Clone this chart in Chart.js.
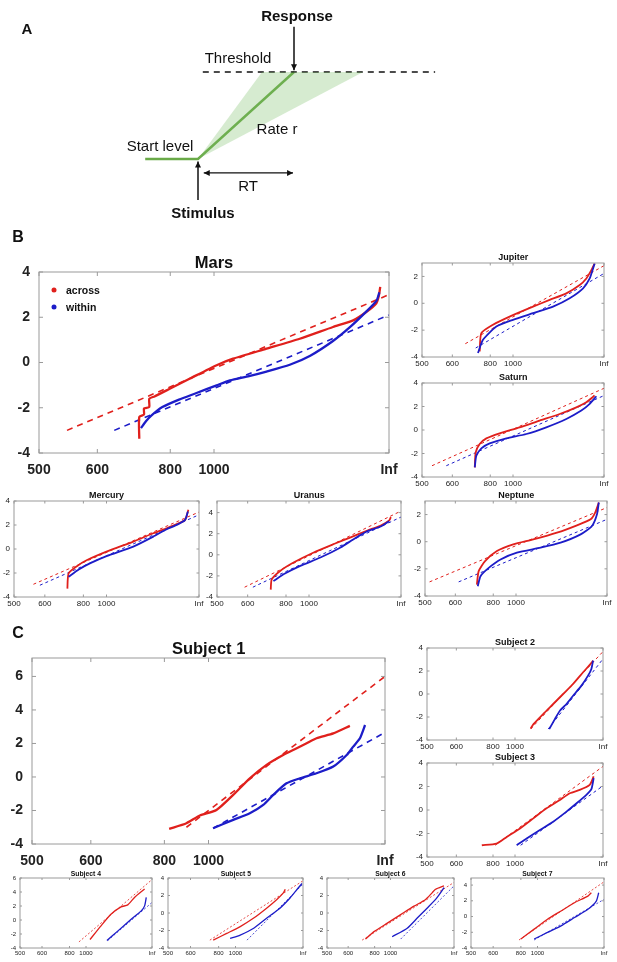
<!DOCTYPE html>
<html>
<head>
<meta charset="utf-8">
<script src="https://cdn.jsdelivr.net/npm/chart.js@4.4.1/dist/chart.umd.min.js"></script>
<style>
  body { margin: 0; background: #fff; font-family: "Liberation Sans", Arial, sans-serif; }
  #page { position: relative; width: 617px; height: 962px; overflow: hidden; }
  canvas { position: absolute; }
  .lbl { position: absolute; white-space: nowrap; transform: translate(-50%, -50%); color: #111; line-height: 1; }
  .b { font-weight: bold; }
  .dot { position: absolute; width: 5px; height: 5px; border-radius: 50%; transform: translate(-50%, -50%); }
</style>
</head>
<body>
<div id="page"></div>
<script>
// x axis = -1000/RT (promptness), y axis = probit z
const rtTicks = [500, 600, 800, 1000, Infinity];
const rtTickLabels = ["500", "600", "800", "1000", "Inf"];

// ---- B: monkeys ----
const marsAcross = [[-1.427,-3.37],[-1.427,-2.41],[-1.40,-2.3],[-1.40,-2.03],[-1.37,-1.97],[-1.37,-1.6],[-1.34,-1.5],[-1.25,-1.15],[-1.137,-0.71],[-0.985,-0.12],[-0.891,0.17],[-0.70,0.61],[-0.51,1.05],[-0.32,1.57],[-0.205,1.86],[-0.13,2.23],[-0.072,2.62],[-0.058,2.95],[-0.05,3.34]];
const marsWithin = [[-1.417,-2.9],[-1.389,-2.6],[-1.36,-2.36],[-1.295,-1.97],[-1.2,-1.64],[-1.10,-1.35],[-0.985,-1.01],[-0.909,-0.79],[-0.80,-0.6],[-0.70,-0.4],[-0.567,-0.1],[-0.45,0.3],[-0.32,0.95],[-0.225,1.55],[-0.13,2.25],[-0.072,2.72],[-0.055,3.1]];
const marsAcrossFit = [[-1.84,-3],[0,3]];
const marsWithinFit = [[-1.57,-3],[0,2.1]];

const jupiterAcross = [[-1.366,-3.58],[-1.348,-2.22],[-1.22,-1.6],[-1.037,-0.99],[-0.78,-0.25],[-0.597,0.25],[-0.414,0.74],[-0.267,1.36],[-0.194,1.85],[-0.139,2.47],[-0.103,2.96]];
const jupiterWithin = [[-1.385,-3.7],[-1.33,-2.72],[-1.183,-1.73],[-1.0,-1.23],[-0.78,-0.74],[-0.56,-0.25],[-0.377,0.37],[-0.23,1.11],[-0.157,1.85],[-0.12,2.59],[-0.103,2.96]];
const jupiterAcrossFit = [[-1.524,-3.01],[0,2.8]];
const jupiterWithinFit = [[-1.41,-3.33],[0,2.22]];

const saturnAcross = [[-1.42,-3.18],[-1.41,-1.9],[-1.366,-1.19],[-1.293,-0.71],[-1.147,-0.28],[-0.927,0.23],[-0.707,0.8],[-0.487,1.36],[-0.304,1.93],[-0.194,2.36],[-0.103,2.93]];
const saturnWithin = [[-1.42,-3.18],[-1.403,-2.19],[-1.348,-1.56],[-1.256,-1.14],[-1.073,-0.71],[-0.853,-0.34],[-0.634,0.23],[-0.414,0.94],[-0.249,1.65],[-0.157,2.22],[-0.084,2.87]];
const saturnAcrossFit = [[-1.89,-3.04],[0,3.55]];
const saturnWithinFit = [[-1.733,-3.04],[0,2.93]];

const mercuryAcross = [[-1.423,-3.3],[-1.41,-2.04],[-1.32,-1.43],[-1.21,-0.92],[-1.0,-0.22],[-0.71,0.62],[-0.494,1.31],[-0.35,1.73],[-0.24,2.07],[-0.15,2.43],[-0.115,3.27]];
const mercuryWithin = [[-1.41,-2.32],[-1.30,-1.71],[-1.18,-1.2],[-1.0,-0.59],[-0.71,0.2],[-0.494,1.03],[-0.35,1.65],[-0.24,2.01],[-0.15,2.43],[-0.12,3.13]];
const mercuryAcrossFit = [[-1.79,-2.94],[0,3.08]];
const mercuryWithinFit = [[-1.72,-3.02],[0,2.85]];

const uranusAcross = [[-1.416,-3.3],[-1.405,-2.33],[-1.314,-1.53],[-1.168,-0.73],[-0.949,0.22],[-0.73,1.02],[-0.547,1.66],[-0.365,2.3],[-0.22,2.78],[-0.128,3.26],[-0.11,3.58]];
const uranusWithin = [[-1.387,-2.49],[-1.277,-1.85],[-1.095,-1.05],[-0.876,-0.26],[-0.657,0.7],[-0.511,1.5],[-0.365,2.24],[-0.22,2.68],[-0.128,3.19]];
const uranusAcrossFit = [[-1.70,-3.07],[0,4.15]];
const uranusWithinFit = [[-1.61,-3.07],[0,3.58]];

const neptuneAcross = [[-1.43,-3.16],[-1.41,-2.17],[-1.34,-1.43],[-1.21,-0.69],[-1.03,-0.2],[-0.81,0.17],[-0.55,0.67],[-0.33,1.21],[-0.18,1.65],[-0.13,2.15],[-0.09,2.89]];
const neptuneWithin = [[-1.42,-3.28],[-1.39,-2.54],[-1.30,-1.93],[-1.17,-1.31],[-0.99,-0.81],[-0.73,-0.44],[-0.51,-0.07],[-0.29,0.54],[-0.165,1.16],[-0.11,2.02],[-0.09,2.89]];
const neptuneAcrossFit = [[-1.95,-2.96],[0,2.52]];
const neptuneWithinFit = [[-1.63,-2.96],[0,1.65]];

// ---- C: human subjects ----
const s1Across = [[-1.223,-3.1],[-1.125,-2.76],[-1.049,-2.3],[-0.955,-1.97],[-0.86,-1.07],[-0.766,-0.08],[-0.671,0.72],[-0.577,1.31],[-0.5,1.71],[-0.444,2.01],[-0.388,2.31],[-0.293,2.6],[-0.199,3.05]];
const s1Within = [[-0.974,-3.06],[-0.86,-2.56],[-0.766,-2.17],[-0.69,-1.67],[-0.633,-1.07],[-0.558,-0.38],[-0.482,-0.08],[-0.388,0.22],[-0.293,0.62],[-0.217,1.31],[-0.18,1.81],[-0.142,2.31],[-0.113,3.1]];
const s1AcrossFit = [[-1.125,-3],[0,6]];
const s1WithinFit = [[-0.974,-3.06],[0,2.66]];

const s2Across = [[-0.823,-3.0],[-0.79,-2.62],[-0.68,-1.74],[-0.566,-0.87],[-0.453,0],[-0.34,0.87],[-0.226,1.89],[-0.151,2.53],[-0.113,2.9]];
const s2Within = [[-0.611,-3.05],[-0.547,-2.18],[-0.49,-1.45],[-0.415,-0.87],[-0.34,-0.15],[-0.245,0.73],[-0.17,1.6],[-0.132,2.18],[-0.113,2.9]];
const s2AcrossFit = [[-0.823,-3.05],[0,3.69]];
const s2WithinFit = [[-0.623,-3.05],[0,3.05]];

const s3Across = [[-1.377,-3.0],[-1.21,-2.86],[-1.094,-2.29],[-0.943,-1.57],[-0.792,-0.71],[-0.642,0.14],[-0.49,0.86],[-0.377,1.43],[-0.264,1.71],[-0.151,2.14],[-0.106,2.86]];
const s3Within = [[-0.981,-3.0],[-0.868,-2.43],[-0.717,-1.71],[-0.566,-1.0],[-0.415,-0.14],[-0.3,0.57],[-0.189,1.29],[-0.132,1.77],[-0.106,2.71]];
const s3AcrossFit = [[-1.226,-3.0],[0,3.71]];
const s3WithinFit = [[-0.936,-3.0],[0,2.06]];

const s4Across = [[-0.94,-2.79],[-0.776,-0.87],[-0.622,0.82],[-0.469,1.87],[-0.367,2.16],[-0.265,3.22],[-0.112,4.42]];
const s4Within = [[-0.683,-2.93],[-0.52,-1.59],[-0.316,0.1],[-0.163,1.3],[-0.112,2.02],[-0.087,3.22]];
const s4AcrossFit = [[-1.107,-3.13],[0,5.77]];
const s4WithinFit = [[-0.67,-2.93],[0,2.5]];

const s5Across = [[-1.33,-3.1],[-1.13,-2.33],[-0.93,-1.55],[-0.73,-0.58],[-0.535,0.58],[-0.387,1.55],[-0.288,2.33],[-0.263,2.71]];
const s5Within = [[-1.08,-2.9],[-0.93,-2.52],[-0.73,-1.74],[-0.535,-0.58],[-0.337,0.58],[-0.189,1.74],[-0.065,2.91],[-0.015,3.37]];
const s5AcrossFit = [[-1.38,-3.1],[0,3.68]];
const s5WithinFit = [[-0.83,-3.1],[0,3.3]];

const s6Across = [[-1.395,-2.98],[-1.26,-2.13],[-1.05,-1.16],[-0.84,-0.19],[-0.63,0.78],[-0.447,1.55],[-0.342,2.33],[-0.29,2.71],[-0.158,3.1]];
const s6Within = [[-0.974,-2.71],[-0.737,-1.74],[-0.579,-0.58],[-0.42,0.58],[-0.29,1.55],[-0.21,2.33],[-0.158,2.91]];
const s6AcrossFit = [[-1.447,-3.1],[0,3.49]];
const s6WithinFit = [[-0.84,-2.98],[0,3.1]];

const s7Across = [[-1.25,-2.86],[-1.05,-1.6],[-0.85,-0.34],[-0.646,0.71],[-0.444,1.76],[-0.242,2.6],[-0.19,3.03]];
const s7Within = [[-1.05,-2.86],[-0.85,-2.02],[-0.646,-1.18],[-0.444,-0.13],[-0.242,0.92],[-0.116,1.97],[-0.08,3.03]];
const s7AcrossFit = [[-1.278,-2.98],[0,4.41]];
const s7WithinFit = [[-1.05,-2.98],[0,2.18]];

// ---- A: LATER diagram (time in RT units, level 0 = start, 1 = threshold) ----
const startLevel = [[-0.55,0],[0,0],[1,1]];
const rateFan = [[0,0],[0.667,1],[1.72,1],[0,0]];
const thresholdLine = [[0.05,1],[2.47,1]];
const responseArrow = [[1,1.52],[1,1.02]];
const stimulusArrow = [[0,-0.47],[0,-0.03]];
const rtArrow = [[0.06,-0.16],[0.99,-0.16]];

const RED = "#e0201c", BLUE = "#1c1cc8", GREEN = "#6aaa48";
const page = document.getElementById("page");

const framePlugin = {
  id: "frame",
  afterDraw(chart, args, opts) {
    if (!opts.on) return;
    const { ctx, chartArea: a, scales } = chart;
    ctx.save();
    ctx.strokeStyle = opts.color;
    ctx.lineWidth = 1;
    ctx.strokeRect(a.left, a.top, a.right - a.left, a.bottom - a.top);
    const L = opts.tick;
    ctx.beginPath();
    scales.x.ticks.forEach(t => {
      const px = scales.x.getPixelForValue(t.value);
      ctx.moveTo(px, a.bottom); ctx.lineTo(px, a.bottom - L);
      ctx.moveTo(px, a.top); ctx.lineTo(px, a.top + L);
    });
    scales.y.ticks.forEach(t => {
      const py = scales.y.getPixelForValue(t.value);
      ctx.moveTo(a.left, py); ctx.lineTo(a.left + L, py);
      ctx.moveTo(a.right, py); ctx.lineTo(a.right - L, py);
    });
    ctx.stroke();
    ctx.restore();
  }
};

const arrowPlugin = {
  id: "arrows",
  afterDatasetsDraw(chart) {
    const ctx = chart.ctx;
    chart.data.datasets.forEach((ds, i) => {
      if (!ds.arrow) return;
      const pts = chart.getDatasetMeta(i).data;
      const head = (a, b) => {
        const ang = Math.atan2(b.y - a.y, b.x - a.x);
        ctx.save();
        ctx.translate(b.x, b.y);
        ctx.rotate(ang);
        ctx.beginPath();
        ctx.moveTo(0, 0); ctx.lineTo(-6, -3); ctx.lineTo(-6, 3); ctx.closePath();
        ctx.fillStyle = ds.borderColor;
        ctx.fill();
        ctx.restore();
      };
      head(pts[pts.length - 2], pts[pts.length - 1]);
      if (ds.arrow === "both") head(pts[1], pts[0]);
    });
  }
};

Chart.register(framePlugin, arrowPlugin);

function text(str, x, y, size, bold, align) {
  const d = document.createElement("div");
  d.className = "lbl" + (bold ? " b" : "");
  d.textContent = str;
  d.style.left = x + "px";
  d.style.top = y + "px";
  d.style.fontSize = size + "px";
  if (align === "left") d.style.transform = "translate(0,-50%)";
  page.appendChild(d);
}

// panel A
(function () {
  const cv = document.createElement("canvas");
  cv.width = 617; cv.height = 230;
  cv.style.left = "0px"; cv.style.top = "0px";
  page.appendChild(cv);
  const line = (data, color, w, extra) => Object.assign({
    data, showLine: true, borderColor: color, borderWidth: w, pointRadius: 0, fill: false
  }, extra || {});
  new Chart(cv, {
    type: "scatter",
    data: {
      datasets: [
        line(rateFan, "rgba(0,0,0,0)", 0, { fill: "shape", backgroundColor: "rgba(120,190,100,0.3)" }),
        line(thresholdLine, "#111", 1.5, { borderDash: [6, 5] }),
        line(startLevel, GREEN, 2.5),
        line(responseArrow, "#111", 1.5, { arrow: "end" }),
        line(stimulusArrow, "#111", 1.5, { arrow: "end" }),
        line(rtArrow, "#111", 1.2, { arrow: "both" })
      ]
    },
    options: {
      responsive: false, animation: false, events: [],
      layout: { padding: 0 },
      plugins: { legend: { display: false }, tooltip: { enabled: false }, frame: { on: false } },
      scales: {
        x: { type: "linear", display: false, min: -198 / 96, max: (617 - 198) / 96 },
        y: { type: "linear", display: false, min: (159 - 230) / 87, max: 159 / 87 }
      }
    }
  });
  text("A", 27, 28, 15, true);
  text("Response", 297, 15, 15, true);
  text("Threshold", 238, 57, 15, false);
  text("Rate r", 277, 128, 15, false);
  text("Start level", 160, 145, 15, false);
  text("RT", 248, 185, 15, false);
  text("Stimulus", 203, 212, 15, true);
})();

const sizes = {
  big:   { padL: 36, padR: 14, padT: 10, padB: 30, tick: 14, bold: true,  yPad: 9, xPad: 9, title: 16.5, tOff: 10, line: 2.3, dash: [6, 5], dashW: 1.6, tickLen: 4 },
  small: { padL: 20, padR: 10, padT: 6,  padB: 14, tick: 8,  bold: false, yPad: 4, xPad: 2, title: 9,    tOff: 6,  line: 1.8, dash: [3, 3], dashW: 1,   tickLen: 2.5 },
  tiny:  { padL: 16, padR: 8,  padT: 5,  padB: 10, tick: 6,  bold: false, yPad: 4, xPad: 2, title: 6.8,  tOff: 4,  line: 1.3, dash: [2, 2], dashW: 0.8, tickLen: 2 }
};

const panels = [
  { title: "Mars",    size: "big",   box: [39, 271.7, 389, 452.7],    yMax: 4,   yTicks: [-4,-2,0,2,4],   across: marsAcross,    within: marsWithin,    aFit: marsAcrossFit,    wFit: marsWithinFit },
  { title: "Jupiter", size: "small", box: [422.3, 262.7, 604.3, 357.3], yMax: 3, yTicks: [-4,-2,0,2],     across: jupiterAcross, within: jupiterWithin, aFit: jupiterAcrossFit, wFit: jupiterWithinFit },
  { title: "Saturn",  size: "small", box: [422.3, 382.7, 604.3, 476.7], yMax: 4, yTicks: [-4,-2,0,2,4],   across: saturnAcross,  within: saturnWithin,  aFit: saturnAcrossFit,  wFit: saturnWithinFit },
  { title: "Mercury", size: "small", box: [14, 501.3, 199, 596.7],    yMax: 4,   yTicks: [-4,-2,0,2,4],   across: mercuryAcross, within: mercuryWithin, aFit: mercuryAcrossFit, wFit: mercuryWithinFit },
  { title: "Uranus",  size: "small", box: [217.3, 501.3, 401, 596.7], yMax: 5.1, yTicks: [-4,-2,0,2,4],   across: uranusAcross,  within: uranusWithin,  aFit: uranusAcrossFit,  wFit: uranusWithinFit },
  { title: "Neptune", size: "small", box: [425, 500.7, 607.3, 595.7], yMax: 3,   yTicks: [-4,-2,0,2],     across: neptuneAcross, within: neptuneWithin, aFit: neptuneAcrossFit, wFit: neptuneWithinFit },
  { title: "Subject 1", size: "big", box: [32.3, 658, 385, 844],      yMax: 7.1, yTicks: [-4,-2,0,2,4,6], across: s1Across, within: s1Within, aFit: s1AcrossFit, wFit: s1WithinFit },
  { title: "Subject 2", size: "small", box: [426.7, 648.3, 603.3, 740], yMax: 4, yTicks: [-4,-2,0,2,4],   across: s2Across, within: s2Within, aFit: s2AcrossFit, wFit: s2WithinFit },
  { title: "Subject 3", size: "small", box: [426.7, 763.3, 603.3, 856.7], yMax: 4, yTicks: [-4,-2,0,2,4], across: s3Across, within: s3Within, aFit: s3AcrossFit, wFit: s3WithinFit },
  { title: "Subject 4", size: "tiny", box: [20, 878.3, 151.7, 948.3],  yMax: 6,   yTicks: [-4,-2,0,2,4,6], across: s4Across, within: s4Within, aFit: s4AcrossFit, wFit: s4WithinFit },
  { title: "Subject 5", size: "tiny", box: [168.3, 878.3, 303.3, 947.7], yMax: 4, yTicks: [-4,-2,0,2,4],   across: s5Across, within: s5Within, aFit: s5AcrossFit, wFit: s5WithinFit },
  { title: "Subject 6", size: "tiny", box: [327, 878.3, 453.7, 947.7], yMax: 4,   yTicks: [-4,-2,0,2,4],   across: s6Across, within: s6Within, aFit: s6AcrossFit, wFit: s6WithinFit },
  { title: "Subject 7", size: "tiny", box: [471, 878.3, 603.7, 947.7], yMax: 4.9, yTicks: [-4,-2,0,2,4],   across: s7Across, within: s7Within, aFit: s7AcrossFit, wFit: s7WithinFit }
];

function plotPanel(p) {
  const s = sizes[p.size];
  const [l, t, r, b] = p.box;
  const left = Math.round(l - s.padL), top = Math.round(t - s.padT);
  const cw = Math.round(r + s.padR) - left, ch = Math.round(b + s.padB) - top;
  const padR = cw - (Math.round(r) - left), padB = ch - (Math.round(b) - top);
  const padT = Math.round(t) - top, padL = Math.round(l) - left;

  const cv = document.createElement("canvas");
  cv.width = cw; cv.height = ch;
  cv.style.left = left + "px"; cv.style.top = top + "px";
  page.appendChild(cv);

  const fitSet = (data, color) => ({
    data, showLine: true, borderColor: color, borderWidth: s.dashW, borderDash: s.dash, pointRadius: 0, fill: false
  });
  const curveSet = (data, color) => ({
    data, showLine: true, borderColor: color, borderWidth: s.line, pointRadius: 0, fill: false, tension: 0.2
  });
  const font = { family: "'Liberation Sans', Arial, sans-serif", size: s.tick, weight: s.bold ? "bold" : "normal" };

  new Chart(cv, {
    type: "scatter",
    data: {
      datasets: [
        curveSet(p.within, BLUE),
        curveSet(p.across, RED),
        fitSet(p.wFit, BLUE),
        fitSet(p.aFit, RED)
      ]
    },
    options: {
      responsive: false, animation: false, events: [],
      layout: { padding: { left: 0, top: padT, right: padR, bottom: 0 } },
      plugins: {
        legend: { display: false }, tooltip: { enabled: false },
        frame: { on: true, color: "#9a9a9a", tick: s.tickLen }
      },
      scales: {
        x: {
          type: "linear", min: -2, max: 0,
          grid: { display: false, drawTicks: false }, border: { display: false },
          afterBuildTicks: sc => { sc.ticks = rtTicks.map(v => ({ value: -1000 / v })); },
          afterFit: sc => { sc.height = padB; sc.paddingLeft = 0; sc.paddingRight = 0; },
          ticks: { autoSkip: false, maxRotation: 0, padding: s.xPad, font, color: "#222",
                   callback: (v, i) => rtTickLabels[i] }
        },
        y: {
          type: "linear", min: -4, max: p.yMax,
          grid: { display: false, drawTicks: false }, border: { display: false },
          afterBuildTicks: sc => { sc.ticks = p.yTicks.map(v => ({ value: v })); },
          afterFit: sc => { sc.width = padL; sc.paddingTop = 0; sc.paddingBottom = 0; },
          ticks: { autoSkip: false, padding: s.yPad, font, color: "#222", callback: v => String(v) }
        }
      }
    }
  });
  text(p.title, (l + r) / 2, t - s.tOff, s.title, true);
}

panels.forEach(plotPanel);

text("B", 18, 237, 16, true);
text("C", 18, 633, 16, true);

// Mars legend
[["across", RED, 290], ["within", BLUE, 307]].forEach(([name, color, y]) => {
  const d = document.createElement("div");
  d.className = "dot";
  d.style.left = "54px"; d.style.top = y + "px"; d.style.background = color;
  page.appendChild(d);
  text(name, 66, y, 10.5, true, "left");
});
</script>
</body>
</html>
